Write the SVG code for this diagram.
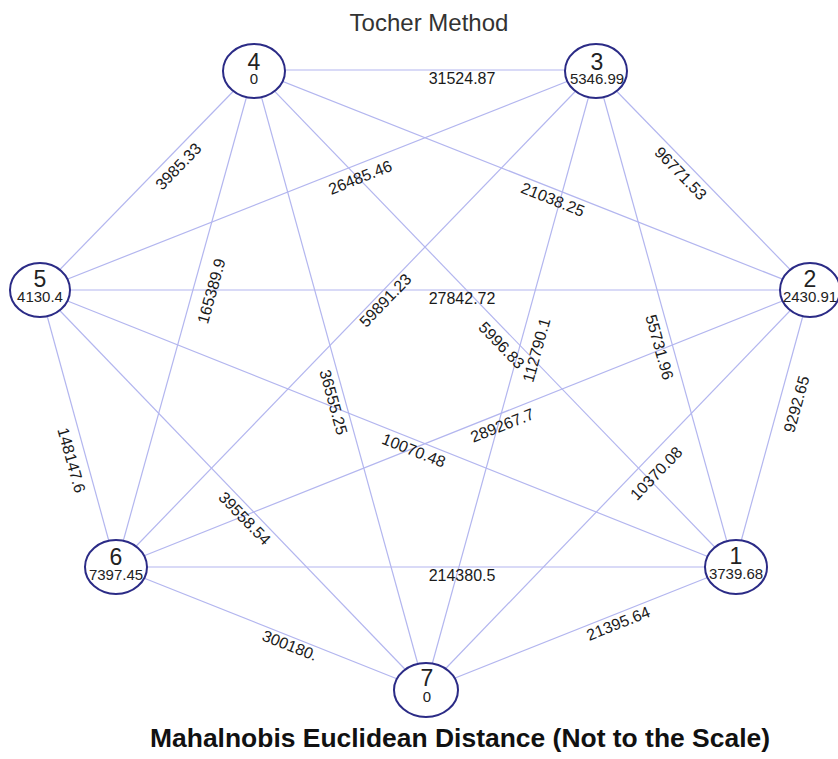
<svg xmlns="http://www.w3.org/2000/svg" width="838" height="759" viewBox="0 0 838 759">
<style>
.e{stroke:#b3b6ef;stroke-width:1.2;fill:none}
.n{fill:#fff;stroke:#2b2b86;stroke-width:2}
.d{font-family:"Liberation Sans",Arial,sans-serif;font-size:23px;fill:#222;text-anchor:middle}
.v{font-family:"Liberation Sans",Arial,sans-serif;font-size:15px;fill:#222;text-anchor:middle}
.l{font-family:"Liberation Sans",Arial,sans-serif;font-size:16px;fill:#1a1a1a;text-anchor:middle}
.t{font-family:"Liberation Sans",Arial,sans-serif;font-size:24px;fill:#333;text-anchor:middle}
.b{font-family:"Liberation Sans",Arial,sans-serif;font-size:26px;font-weight:bold;fill:#111;text-anchor:middle}
</style>
<rect width="838" height="759" fill="#fff"/>
<text class="t" x="429" y="31">Tocher Method</text>
<g id="connectors">
<line class="e" x1="254" y1="70" x2="596" y2="70"/>
<line class="e" x1="254" y1="70" x2="40" y2="290"/>
<line class="e" x1="254" y1="70" x2="116" y2="567"/>
<line class="e" x1="254" y1="70" x2="425" y2="690"/>
<line class="e" x1="254" y1="70" x2="734" y2="567"/>
<line class="e" x1="254" y1="70" x2="810" y2="290"/>
<line class="e" x1="596" y1="70" x2="40" y2="290"/>
<line class="e" x1="596" y1="70" x2="116" y2="567"/>
<line class="e" x1="596" y1="70" x2="425" y2="690"/>
<line class="e" x1="596" y1="70" x2="810" y2="290"/>
<line class="e" x1="596" y1="70" x2="734" y2="567"/>
<line class="e" x1="40" y1="290" x2="810" y2="290"/>
<line class="e" x1="40" y1="290" x2="734" y2="567"/>
<line class="e" x1="40" y1="290" x2="425" y2="690"/>
<line class="e" x1="40" y1="290" x2="116" y2="567"/>
<line class="e" x1="810" y1="290" x2="116" y2="567"/>
<line class="e" x1="810" y1="290" x2="734" y2="567"/>
<line class="e" x1="810" y1="290" x2="425" y2="690"/>
<line class="e" x1="116" y1="567" x2="734" y2="567"/>
<line class="e" x1="116" y1="567" x2="425" y2="690"/>
<line class="e" x1="734" y1="567" x2="425" y2="690"/>
<g id="edge-labels">
<text class="l" transform="translate(462,78)" y="6">31524.87</text>
<text class="l" transform="translate(462,298)" y="6">27842.72</text>
<text class="l" transform="translate(462,575)" y="6">214380.5</text>
<text class="l" transform="translate(178,166) rotate(-45.8)" y="6">3985.33</text>
<text class="l" transform="translate(211,291) rotate(-74.5)" y="6">165389.9</text>
<text class="l" transform="translate(334,402) rotate(74.6)" y="6">36555.25</text>
<text class="l" transform="translate(502,345) rotate(46)" y="6">5996.83</text>
<text class="l" transform="translate(553,199) rotate(21.8)" y="6">21038.25</text>
<text class="l" transform="translate(360,177) rotate(-21.8)" y="6">26485.46</text>
<text class="l" transform="translate(385,300) rotate(-46)" y="6">59891.23</text>
<text class="l" transform="translate(536,350) rotate(-74.6)" y="6">112790.1</text>
<text class="l" transform="translate(681,173) rotate(46)" y="6">96771.53</text>
<text class="l" transform="translate(660,347) rotate(74.5)" y="6">55731.96</text>
<text class="l" transform="translate(414,450) rotate(21.6)" y="6">10070.48</text>
<text class="l" transform="translate(245,518) rotate(45.9)" y="6">39558.54</text>
<text class="l" transform="translate(72,460) rotate(74.5)" y="6">148147.6</text>
<text class="l" transform="translate(502,425) rotate(-21.6)" y="6">289267.7</text>
<text class="l" transform="translate(796,404) rotate(-74.5)" y="6">9292.65</text>
<text class="l" transform="translate(656,473) rotate(-45.9)" y="6">10370.08</text>
<text class="l" transform="translate(290,645) rotate(21.7)" y="6">300180.</text>
<text class="l" transform="translate(618,623) rotate(-21.7)" y="6">21395.64</text>
</g>
</g>
<g id="node-4"><ellipse class="n" cx="254" cy="71" rx="31" ry="27"/><text class="d" x="254" y="70">4</text><text class="v" x="254" y="84">0</text></g>
<g id="node-3"><ellipse class="n" cx="596" cy="71" rx="31" ry="27"/><text class="d" x="597" y="70">3</text><text class="v" x="597" y="84">5346.99</text></g>
<g id="node-5"><ellipse class="n" cx="40" cy="290" rx="30" ry="27"/><text class="d" x="40" y="287">5</text><text class="v" x="40" y="302">4130.4</text></g>
<g id="node-2"><ellipse class="n" cx="810" cy="290" rx="30" ry="27"/><text class="d" x="810" y="287">2</text><text class="v" x="810" y="302">2430.91</text></g>
<g id="node-6"><ellipse class="n" cx="116" cy="567" rx="31" ry="27"/><text class="d" x="116" y="565">6</text><text class="v" x="116" y="580">7397.45</text></g>
<g id="node-1"><ellipse class="n" cx="736" cy="567" rx="31" ry="27"/><text class="d" x="736" y="564">1</text><text class="v" x="736" y="579">3739.68</text></g>
<g id="node-7"><ellipse class="n" cx="426" cy="690" rx="32" ry="27"/><text class="d" x="427" y="686">7</text><text class="v" x="427" y="702">0</text></g>
<text class="b" x="460" y="747" textLength="620" lengthAdjust="spacingAndGlyphs">Mahalnobis Euclidean Distance (Not to the Scale)</text>
</svg>
